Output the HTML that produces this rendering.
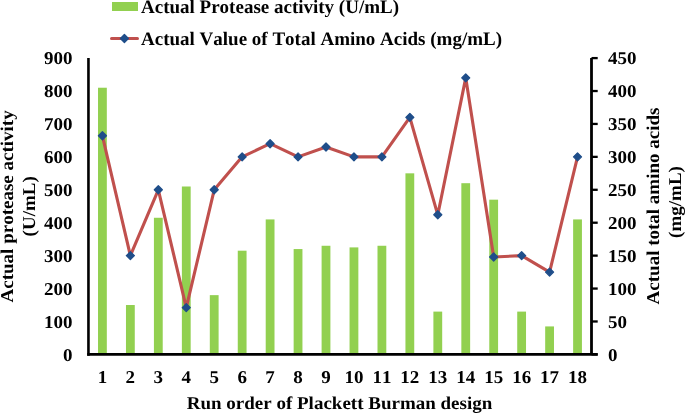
<!DOCTYPE html>
<html><head><meta charset="utf-8"><style>
html,body{margin:0;padding:0;background:#fff;}
svg{display:block;}
text{font-kerning:none;text-rendering:geometricPrecision;font-family:"Liberation Serif",serif;font-weight:bold;font-size:19px;fill:#000;}
</style></head><body>
<svg width="685" height="413" viewBox="0 0 685 413">
<rect x="98.02" y="87.73" width="8.8" height="266.67" fill="#92D050"/>
<rect x="125.97" y="305.02" width="8.8" height="49.38" fill="#92D050"/>
<rect x="153.92" y="217.77" width="8.8" height="136.63" fill="#92D050"/>
<rect x="181.87" y="186.50" width="8.8" height="167.90" fill="#92D050"/>
<rect x="209.81" y="295.14" width="8.8" height="59.26" fill="#92D050"/>
<rect x="237.76" y="250.69" width="8.8" height="103.70" fill="#92D050"/>
<rect x="265.71" y="219.42" width="8.8" height="134.98" fill="#92D050"/>
<rect x="293.65" y="249.05" width="8.8" height="105.35" fill="#92D050"/>
<rect x="321.60" y="245.76" width="8.8" height="108.64" fill="#92D050"/>
<rect x="349.55" y="247.40" width="8.8" height="107.00" fill="#92D050"/>
<rect x="377.50" y="245.76" width="8.8" height="108.64" fill="#92D050"/>
<rect x="405.44" y="173.33" width="8.8" height="181.07" fill="#92D050"/>
<rect x="433.39" y="311.60" width="8.8" height="42.80" fill="#92D050"/>
<rect x="461.34" y="183.20" width="8.8" height="171.20" fill="#92D050"/>
<rect x="489.28" y="199.67" width="8.8" height="154.73" fill="#92D050"/>
<rect x="517.23" y="311.60" width="8.8" height="42.80" fill="#92D050"/>
<rect x="545.18" y="326.42" width="8.8" height="27.98" fill="#92D050"/>
<rect x="573.13" y="219.42" width="8.8" height="134.98" fill="#92D050"/>
<line x1="88.45" y1="58.1" x2="88.45" y2="355.7" stroke="#000" stroke-width="2.6"/>
<line x1="87.25" y1="354.4" x2="597.7" y2="354.4" stroke="#000" stroke-width="2.6"/>
<line x1="591.5" y1="58.1" x2="591.5" y2="354.4" stroke="#000" stroke-width="2.8"/>
<line x1="591.5" y1="354.40" x2="597.7" y2="354.40" stroke="#000" stroke-width="2.3"/>
<line x1="591.5" y1="321.48" x2="597.7" y2="321.48" stroke="#000" stroke-width="2.3"/>
<line x1="591.5" y1="288.56" x2="597.7" y2="288.56" stroke="#000" stroke-width="2.3"/>
<line x1="591.5" y1="255.63" x2="597.7" y2="255.63" stroke="#000" stroke-width="2.3"/>
<line x1="591.5" y1="222.71" x2="597.7" y2="222.71" stroke="#000" stroke-width="2.3"/>
<line x1="591.5" y1="189.79" x2="597.7" y2="189.79" stroke="#000" stroke-width="2.3"/>
<line x1="591.5" y1="156.87" x2="597.7" y2="156.87" stroke="#000" stroke-width="2.3"/>
<line x1="591.5" y1="123.94" x2="597.7" y2="123.94" stroke="#000" stroke-width="2.3"/>
<line x1="591.5" y1="91.02" x2="597.7" y2="91.02" stroke="#000" stroke-width="2.3"/>
<line x1="591.5" y1="58.10" x2="597.7" y2="58.10" stroke="#000" stroke-width="2.3"/>
<polyline points="102.42,135.80 130.37,255.63 158.32,189.79 186.27,307.65 214.21,189.79 242.16,156.87 270.11,143.70 298.05,156.87 326.00,146.99 353.95,156.87 381.90,156.87 409.84,117.36 437.79,214.81 465.74,77.85 493.68,256.95 521.63,255.63 549.58,272.09 577.53,156.87" fill="none" stroke="#C0504D" stroke-width="3.1" stroke-linejoin="round" stroke-linecap="round"/>
<path d="M102.42 131.80L106.42 135.80L102.42 139.80L98.42 135.80Z" fill="#1F4E8A" stroke="#1F4E8A" stroke-width="1.3" stroke-linejoin="round"/>
<path d="M130.37 251.63L134.37 255.63L130.37 259.63L126.37 255.63Z" fill="#1F4E8A" stroke="#1F4E8A" stroke-width="1.3" stroke-linejoin="round"/>
<path d="M158.32 185.79L162.32 189.79L158.32 193.79L154.32 189.79Z" fill="#1F4E8A" stroke="#1F4E8A" stroke-width="1.3" stroke-linejoin="round"/>
<path d="M186.27 303.65L190.27 307.65L186.27 311.65L182.27 307.65Z" fill="#1F4E8A" stroke="#1F4E8A" stroke-width="1.3" stroke-linejoin="round"/>
<path d="M214.21 185.79L218.21 189.79L214.21 193.79L210.21 189.79Z" fill="#1F4E8A" stroke="#1F4E8A" stroke-width="1.3" stroke-linejoin="round"/>
<path d="M242.16 152.87L246.16 156.87L242.16 160.87L238.16 156.87Z" fill="#1F4E8A" stroke="#1F4E8A" stroke-width="1.3" stroke-linejoin="round"/>
<path d="M270.11 139.70L274.11 143.70L270.11 147.70L266.11 143.70Z" fill="#1F4E8A" stroke="#1F4E8A" stroke-width="1.3" stroke-linejoin="round"/>
<path d="M298.05 152.87L302.05 156.87L298.05 160.87L294.05 156.87Z" fill="#1F4E8A" stroke="#1F4E8A" stroke-width="1.3" stroke-linejoin="round"/>
<path d="M326.00 142.99L330.00 146.99L326.00 150.99L322.00 146.99Z" fill="#1F4E8A" stroke="#1F4E8A" stroke-width="1.3" stroke-linejoin="round"/>
<path d="M353.95 152.87L357.95 156.87L353.95 160.87L349.95 156.87Z" fill="#1F4E8A" stroke="#1F4E8A" stroke-width="1.3" stroke-linejoin="round"/>
<path d="M381.90 152.87L385.90 156.87L381.90 160.87L377.90 156.87Z" fill="#1F4E8A" stroke="#1F4E8A" stroke-width="1.3" stroke-linejoin="round"/>
<path d="M409.84 113.36L413.84 117.36L409.84 121.36L405.84 117.36Z" fill="#1F4E8A" stroke="#1F4E8A" stroke-width="1.3" stroke-linejoin="round"/>
<path d="M437.79 210.81L441.79 214.81L437.79 218.81L433.79 214.81Z" fill="#1F4E8A" stroke="#1F4E8A" stroke-width="1.3" stroke-linejoin="round"/>
<path d="M465.74 73.85L469.74 77.85L465.74 81.85L461.74 77.85Z" fill="#1F4E8A" stroke="#1F4E8A" stroke-width="1.3" stroke-linejoin="round"/>
<path d="M493.68 252.95L497.68 256.95L493.68 260.95L489.68 256.95Z" fill="#1F4E8A" stroke="#1F4E8A" stroke-width="1.3" stroke-linejoin="round"/>
<path d="M521.63 251.63L525.63 255.63L521.63 259.63L517.63 255.63Z" fill="#1F4E8A" stroke="#1F4E8A" stroke-width="1.3" stroke-linejoin="round"/>
<path d="M549.58 268.09L553.58 272.09L549.58 276.09L545.58 272.09Z" fill="#1F4E8A" stroke="#1F4E8A" stroke-width="1.3" stroke-linejoin="round"/>
<path d="M577.53 152.87L581.53 156.87L577.53 160.87L573.53 156.87Z" fill="#1F4E8A" stroke="#1F4E8A" stroke-width="1.3" stroke-linejoin="round"/>
<rect x="112" y="2" width="26" height="9" fill="#92D050"/>
<line x1="111.5" y1="38.5" x2="137.5" y2="38.5" stroke="#C0504D" stroke-width="3" stroke-linecap="round"/>
<path d="M124.4 34.5L128.4 38.5L124.4 42.5L120.4 38.5Z" fill="#1F4E8A" stroke="#1F4E8A" stroke-width="1.3" stroke-linejoin="round"/>
<g opacity="0.999">
<text transform="translate(72.50 360.70) scale(1 0.95)" text-anchor="end">0</text>
<text transform="translate(72.50 327.78) scale(1 0.95)" text-anchor="end">100</text>
<text transform="translate(72.50 294.86) scale(1 0.95)" text-anchor="end">200</text>
<text transform="translate(72.50 261.93) scale(1 0.95)" text-anchor="end">300</text>
<text transform="translate(72.50 229.01) scale(1 0.95)" text-anchor="end">400</text>
<text transform="translate(72.50 196.09) scale(1 0.95)" text-anchor="end">500</text>
<text transform="translate(72.50 163.17) scale(1 0.95)" text-anchor="end">600</text>
<text transform="translate(72.50 130.24) scale(1 0.95)" text-anchor="end">700</text>
<text transform="translate(72.50 97.32) scale(1 0.95)" text-anchor="end">800</text>
<text transform="translate(72.50 64.40) scale(1 0.95)" text-anchor="end">900</text>
<text transform="translate(608.00 360.70) scale(1 0.95)">0</text>
<text transform="translate(608.00 327.78) scale(1 0.95)">50</text>
<text transform="translate(608.00 294.86) scale(1 0.95)">100</text>
<text transform="translate(608.00 261.93) scale(1 0.95)">150</text>
<text transform="translate(608.00 229.01) scale(1 0.95)">200</text>
<text transform="translate(608.00 196.09) scale(1 0.95)">250</text>
<text transform="translate(608.00 163.17) scale(1 0.95)">300</text>
<text transform="translate(608.00 130.24) scale(1 0.95)">350</text>
<text transform="translate(608.00 97.32) scale(1 0.95)">400</text>
<text transform="translate(608.00 64.40) scale(1 0.95)">450</text>
<text transform="translate(102.42 382.80) scale(1 0.95)" text-anchor="middle">1</text>
<text transform="translate(130.37 382.80) scale(1 0.95)" text-anchor="middle">2</text>
<text transform="translate(158.32 382.80) scale(1 0.95)" text-anchor="middle">3</text>
<text transform="translate(186.27 382.80) scale(1 0.95)" text-anchor="middle">4</text>
<text transform="translate(214.21 382.80) scale(1 0.95)" text-anchor="middle">5</text>
<text transform="translate(242.16 382.80) scale(1 0.95)" text-anchor="middle">6</text>
<text transform="translate(270.11 382.80) scale(1 0.95)" text-anchor="middle">7</text>
<text transform="translate(298.05 382.80) scale(1 0.95)" text-anchor="middle">8</text>
<text transform="translate(326.00 382.80) scale(1 0.95)" text-anchor="middle">9</text>
<text transform="translate(353.95 382.80) scale(1 0.95)" text-anchor="middle">10</text>
<text transform="translate(381.90 382.80) scale(1 0.95)" text-anchor="middle">11</text>
<text transform="translate(409.84 382.80) scale(1 0.95)" text-anchor="middle">12</text>
<text transform="translate(437.79 382.80) scale(1 0.95)" text-anchor="middle">13</text>
<text transform="translate(465.74 382.80) scale(1 0.95)" text-anchor="middle">14</text>
<text transform="translate(493.68 382.80) scale(1 0.95)" text-anchor="middle">15</text>
<text transform="translate(521.63 382.80) scale(1 0.95)" text-anchor="middle">16</text>
<text transform="translate(549.58 382.80) scale(1 0.95)" text-anchor="middle">17</text>
<text transform="translate(577.53 382.80) scale(1 0.95)" text-anchor="middle">18</text>
<text transform="translate(339.50 409.20) scale(1 0.95)" text-anchor="middle">Run order of Plackett Burman design</text>
<text transform="translate(13.00 206.40) rotate(-90) scale(1 0.95)" text-anchor="middle">Actual protease activity</text>
<text transform="translate(35.20 206.30) rotate(-90) scale(1 0.95)" text-anchor="middle">(U/mL)</text>
<text transform="translate(658.50 206.00) rotate(-90) scale(1 0.95)" text-anchor="middle">Actual total amino acids</text>
<text transform="translate(681.00 202.00) rotate(-90) scale(1 0.95)" text-anchor="middle">(mg/mL)</text>
<text transform="translate(141.00 12.60) scale(1 1.0)">Actual Protease activity (U/mL)</text>
<text transform="translate(141.00 44.60) scale(1 1.0)">Actual Value of Total Amino Acids (mg/mL)</text>
</g>
</svg>
</body></html>
